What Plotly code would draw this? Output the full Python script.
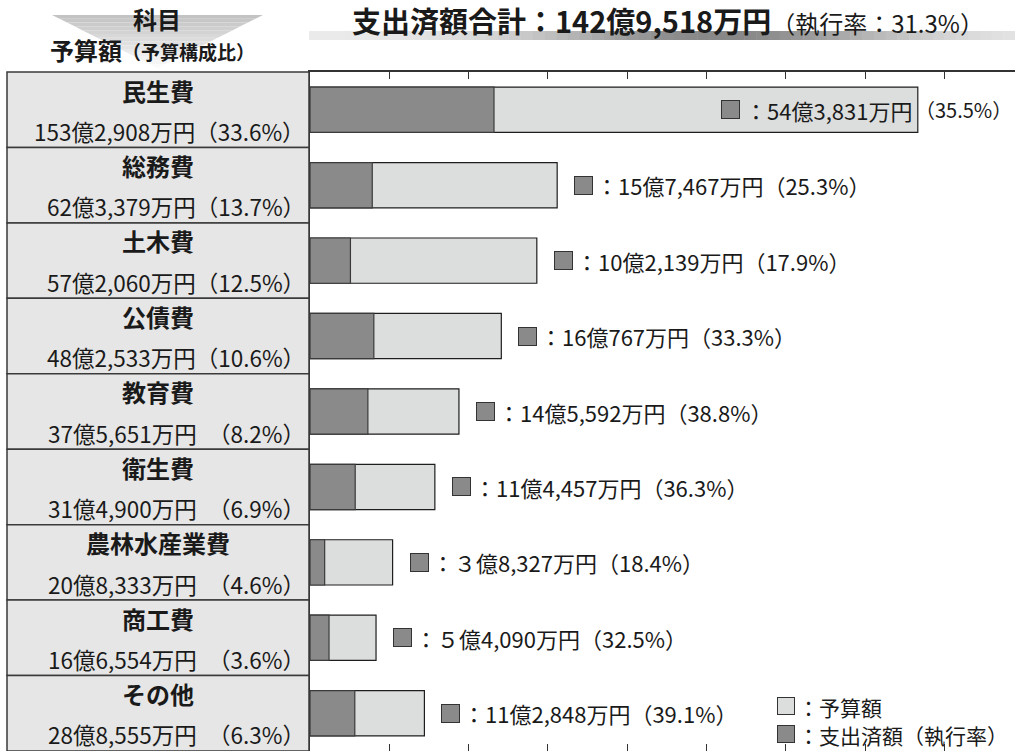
import math
import plotly.graph_objects as go

# ---------------- data ----------------
categories = ["民生費", "総務費", "土木費", "公債費", "教育費", "衛生費", "農林水産業費", "商工費", "その他"]
budget_man = [1532908, 623379, 572060, 482533, 375651, 314900, 208333, 166554, 288555]   # 予算額（万円）
spent_man = [543831, 157467, 102139, 160767, 145592, 114457, 38327, 54090, 112848]       # 支出済額（万円）
# 支出済額バーの長さ（億円）: 図のバーから読み取った値
spent_bar_oku = [46.4, 15.7, 10.2, 16.1, 14.6, 11.4, 3.7, 4.8, 11.3]
x_ticks = [0, 20, 40, 60, 80, 100, 120, 140, 160]

# ---------------- layout constants ----------------
W, H = 1015, 751
L, T, B, R = 310, 72, 0, 0
PW, PH = W - L - R, H - T - B
PX_PER_TICK = 79.3
X_MAX = PW / PX_PER_TICK * 20

FONT = "Noto Sans CJK JP"
TXT = "#1a1a1a"
DARK = "#8a8a8a"
LIGHT = "#dcdedd"


def px_x(px):
    return (px - L) / PW


def px_y(py):
    return (H - B - py) / PH


def fw_digit(n):
    return "".join(chr(ord("０") + int(c)) for c in str(n))


def fmt(man):
    oku, rest = divmod(man, 10000)
    oku_s = str(oku) if oku >= 10 else fw_digit(oku)
    return f"{oku_s}億{rest:,}万円"


budget_oku = [v / 10000 for v in budget_man]
total_budget = sum(budget_man)
total_spent = sum(spent_man)

fig = go.Figure()
fig.add_trace(go.Bar(
    y=categories, x=budget_oku, orientation="h", width=0.6,
    marker=dict(color=LIGHT, line=dict(color="#1e1e1e", width=1.2)),
    hoverinfo="skip", showlegend=False))
fig.add_trace(go.Bar(
    y=categories, x=spent_bar_oku, orientation="h", width=0.6,
    marker=dict(color=DARK, line=dict(color="#3a3a3a", width=1.2)),
    hoverinfo="skip", showlegend=False))
# invisible trace so that the bottom tick axis is drawn
fig.add_trace(go.Scatter(x=[0], y=[categories[0]], xaxis="x2", mode="markers",
                         marker=dict(opacity=0), hoverinfo="skip", showlegend=False))

shapes = []
annotations = []

# ---- left table ----
n = len(categories)
for i, cat in enumerate(categories):
    shapes.append(dict(type="rect", xref="paper", yref="paper",
                       x0=px_x(7), x1=px_x(309), y0=1 - (i + 1) / n, y1=1 - i / n,
                       fillcolor="#e6e6e6", line=dict(color="#3a3a3a", width=1.5), layer="above"))
    share = budget_man[i] / total_budget * 100
    pad = "　" if share < 10 else ""
    annotations.append(dict(xref="paper", yref="paper", x=px_x(158), y=1 - (i + 0.24) / n,
                            text=f"<b>{cat}</b>", showarrow=False, xanchor="center", yanchor="middle",
                            font=dict(family=FONT, size=24, color=TXT)))
    annotations.append(dict(xref="paper", yref="paper", x=px_x(307), y=1 - (i + 0.78) / n,
                            text=f"{fmt(budget_man[i])}{pad}（{share:.1f}%）", showarrow=False,
                            xanchor="right", yanchor="middle",
                            font=dict(family=FONT, size=22.5, color=TXT)))

# ---- bar labels ----
for i, cat in enumerate(categories):
    rate = spent_man[i] / budget_man[i] * 100
    main = f"：{fmt(spent_man[i])}"
    pct = f"（{rate:.1f}%）"
    inside = budget_oku[i] > 120
    sq = dict(xref="x", yref="y", x=budget_oku[i], y=cat, text=" ", showarrow=False,
              width=17, height=17, bgcolor=DARK, bordercolor="#333333", borderwidth=1, borderpad=0,
              yanchor="middle", font=dict(size=4))
    if inside:
        sq.update(xanchor="right", xshift=-178)
        annotations.append(sq)
        annotations.append(dict(xref="x", yref="y", x=budget_oku[i], y=cat, text=main,
                                showarrow=False, xanchor="right", yanchor="middle", xshift=-4,
                                font=dict(family=FONT, size=22, color=TXT)))
        annotations.append(dict(xref="x", yref="y", x=budget_oku[i], y=cat, text=pct,
                                showarrow=False, xanchor="left", yanchor="middle", xshift=-4,
                                borderpad=0, font=dict(family=FONT, size=20, color=TXT)))
    else:
        sq.update(xanchor="left", xshift=17)
        annotations.append(sq)
        annotations.append(dict(xref="x", yref="y", x=budget_oku[i], y=cat,
                                text=f"{main}<span style='font-size:22px'>{pct}</span>",
                                showarrow=False, xanchor="left", yanchor="middle", xshift=37,
                                font=dict(family=FONT, size=22, color=TXT)))

# ---- header: gradient triangle ----
nt = 14
top, tip = 15.0, 68.0
cx, hw0 = 157.5, 105.5
for k in range(nt):
    ya = top + k * (tip - top) / nt
    yb = ya + (tip - top) / nt
    hwa = hw0 * (tip - ya) / (tip - top)
    hwb = hw0 * (tip - yb) / (tip - top)
    g = int(195 + (250 - 195) * k / (nt - 1))
    path = (f"M {px_x(cx - hwa)},{px_y(ya)} L {px_x(cx + hwa)},{px_y(ya)} "
            f"L {px_x(cx + hwb)},{px_y(yb)} L {px_x(cx - hwb)},{px_y(yb)} Z")
    shapes.append(dict(type="path", xref="paper", yref="paper", path=path,
                       fillcolor=f"rgb({g},{g},{g})", line=dict(width=0), layer="below"))

# ---- title gradient band ----
nb = 60
x_start, x_end = 309.0, 1015.0
for k in range(nb):
    xa = x_start + k * (x_end - x_start) / nb
    xb = xa + (x_end - x_start) / nb + 0.5
    xm = (xa + xb) / 2
    g = int(236 - 100 * math.exp(-((xm - 720) / 190) ** 2))
    shapes.append(dict(type="rect", xref="paper", yref="paper",
                       x0=px_x(xa), x1=px_x(xb), y0=px_y(40), y1=px_y(31),
                       fillcolor=f"rgb({g},{g},{g})", line=dict(width=0), layer="below"))

annotations.append(dict(xref="paper", yref="paper", x=px_x(157), y=px_y(18), text="<b>科目</b>",
                        showarrow=False, xanchor="center", yanchor="middle",
                        font=dict(family=FONT, size=24, color=TXT)))
annotations.append(dict(xref="paper", yref="paper", x=px_x(152), y=px_y(50),
                        text="<b>予算額<span style='font-size:19px'>（予算構成比）</span></b>",
                        showarrow=False, xanchor="center", yanchor="middle",
                        font=dict(family=FONT, size=24, color=TXT)))

total_rate = total_spent / total_budget * 100
annotations.append(dict(xref="paper", yref="paper", x=px_x(350), y=px_y(20),
                        text=f"<b>支出済額合計：{fmt(total_spent)}</b>"
                             f"<span style='font-size:24px'>（執行率：{total_rate:.1f}%）</span>",
                        showarrow=False, xanchor="left", yanchor="middle",
                        font=dict(family=FONT, size=29, color=TXT)))

# ---- legend ----
for (label, col, yc) in [("：予算額", LIGHT, 706), ("：支出済額（執行率）", DARK, 734)]:
    annotations.append(dict(xref="paper", yref="paper", x=px_x(777), y=px_y(yc), text=" ",
                            showarrow=False, xanchor="left", yanchor="middle", width=16, height=16,
                            bgcolor=col, bordercolor="#333333", borderwidth=1, borderpad=0,
                            font=dict(size=4)))
    annotations.append(dict(xref="paper", yref="paper", x=px_x(797), y=px_y(yc), text=label,
                            showarrow=False, xanchor="left", yanchor="middle", height=25, borderpad=0,
                            font=dict(family=FONT, size=21, color=TXT)))

axis_common = dict(range=[0, X_MAX], tickvals=x_ticks, showticklabels=False, showgrid=False,
                   zeroline=False, ticks="inside", ticklen=7, tickcolor="#333333", tickwidth=1.2)

fig.update_layout(
    width=W, height=H,
    margin=dict(l=L, r=R, t=T, b=B, pad=0),
    paper_bgcolor="white", plot_bgcolor="white",
    barmode="overlay",
    xaxis=dict(side="top", showline=True, linecolor="#333333", linewidth=1.5, anchor="y", **axis_common),
    xaxis2=dict(side="bottom", overlaying="x", matches="x", showline=False, anchor="y", **axis_common),
    yaxis=dict(type="category", categoryorder="array", categoryarray=categories,
               range=[n - 0.5, -0.5], showline=True, linecolor="#333333", linewidth=1.5,
               showticklabels=False, showgrid=False, zeroline=False, ticks=""),
    shapes=shapes,
    annotations=annotations,
    font=dict(family=FONT, color=TXT),
    showlegend=False,
)

fig.write_html("out.html", config={"displayModeBar": False},
               post_script="document.body.style.margin='0';document.body.style.overflow='hidden';")
